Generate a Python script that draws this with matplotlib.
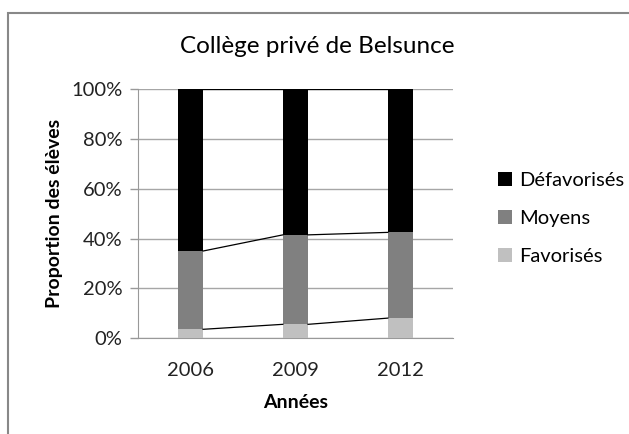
import matplotlib
matplotlib.use('Agg')
import matplotlib.pyplot as plt
import numpy as np
from matplotlib.patches import Rectangle

plt.rcParams['font.family'] = ['Lato', 'DejaVu Sans']

annees = ['2006', '2009', '2012']
favorises = [3.5, 5.5, 8.0]
moyens = [31.5, 36.0, 34.5]
defavorises = [65.0, 58.5, 57.5]

series = [('Favorisés', favorises, '#c0c0c0'),
          ('Moyens', moyens, '#808080'),
          ('Défavorisés', defavorises, '#000000')]

fig = plt.figure(figsize=(6.29, 4.34), dpi=100)
ax = fig.add_axes([0.2194, 0.2212, 0.5006, 0.5726])

x = np.arange(len(annees))
w = 0.24
bottom = np.zeros(len(annees))
handles = []
for name, vals, col in series:
    vals = np.array(vals)
    b = ax.bar(x, vals, w, bottom=bottom, color=col, label=name, zorder=3)
    handles.append(b)
    bottom = bottom + vals
    # series lines joining the tops of the segments
    for i in range(len(annees) - 1):
        ax.plot([x[i] + w / 2, x[i + 1] - w / 2], [bottom[i], bottom[i + 1]],
                color='black', lw=0.9, zorder=4)

ax.set_xlim(-0.5, len(annees) - 0.5)
ax.set_ylim(0, 100)
ax.set_yticks(range(0, 101, 20))
ax.set_yticklabels([f'{v}%' for v in range(0, 101, 20)], fontsize=14.5, color='#222222')
ax.set_xticks(x)
ax.set_xticklabels(annees, fontsize=14.5, color='#222222')
ax.tick_params(axis='x', length=0, pad=17)
ax.tick_params(axis='y', length=6, color='#999999', width=1, pad=5)
ax.yaxis.grid(True, color='#a6a6a6', lw=1, zorder=0)

for s in ['top', 'right']:
    ax.spines[s].set_visible(False)
for s in ['left', 'bottom']:
    ax.spines[s].set_color('#999999')

ax.set_xlabel('Années', fontsize=14, fontweight='bold', labelpad=11)
ax.set_ylabel('Proportion des élèves', fontsize=14, fontweight='bold', labelpad=6)

fig.text(0.504, 0.892, 'Collège privé de Belsunce', ha='center', va='center',
         fontsize=17.5, fontweight='normal')

leg = fig.legend(handles[::-1], [h.get_label() for h in handles[::-1]],
                 loc='upper left', bbox_to_anchor=(0.772, 0.632), frameon=False,
                 fontsize=14.5, handlelength=0.7, handleheight=0.7,
                 handletextpad=0.35, labelspacing=1.05, borderaxespad=0.2)

# outer chart border
fig.patches.append(Rectangle((8 / 629, -0.1), 1.0, 1.1 - 13 / 434,
                             transform=fig.transFigure, fill=False,
                             edgecolor='#888888', lw=1.5))

fig.savefig('out.png', dpi=100)
